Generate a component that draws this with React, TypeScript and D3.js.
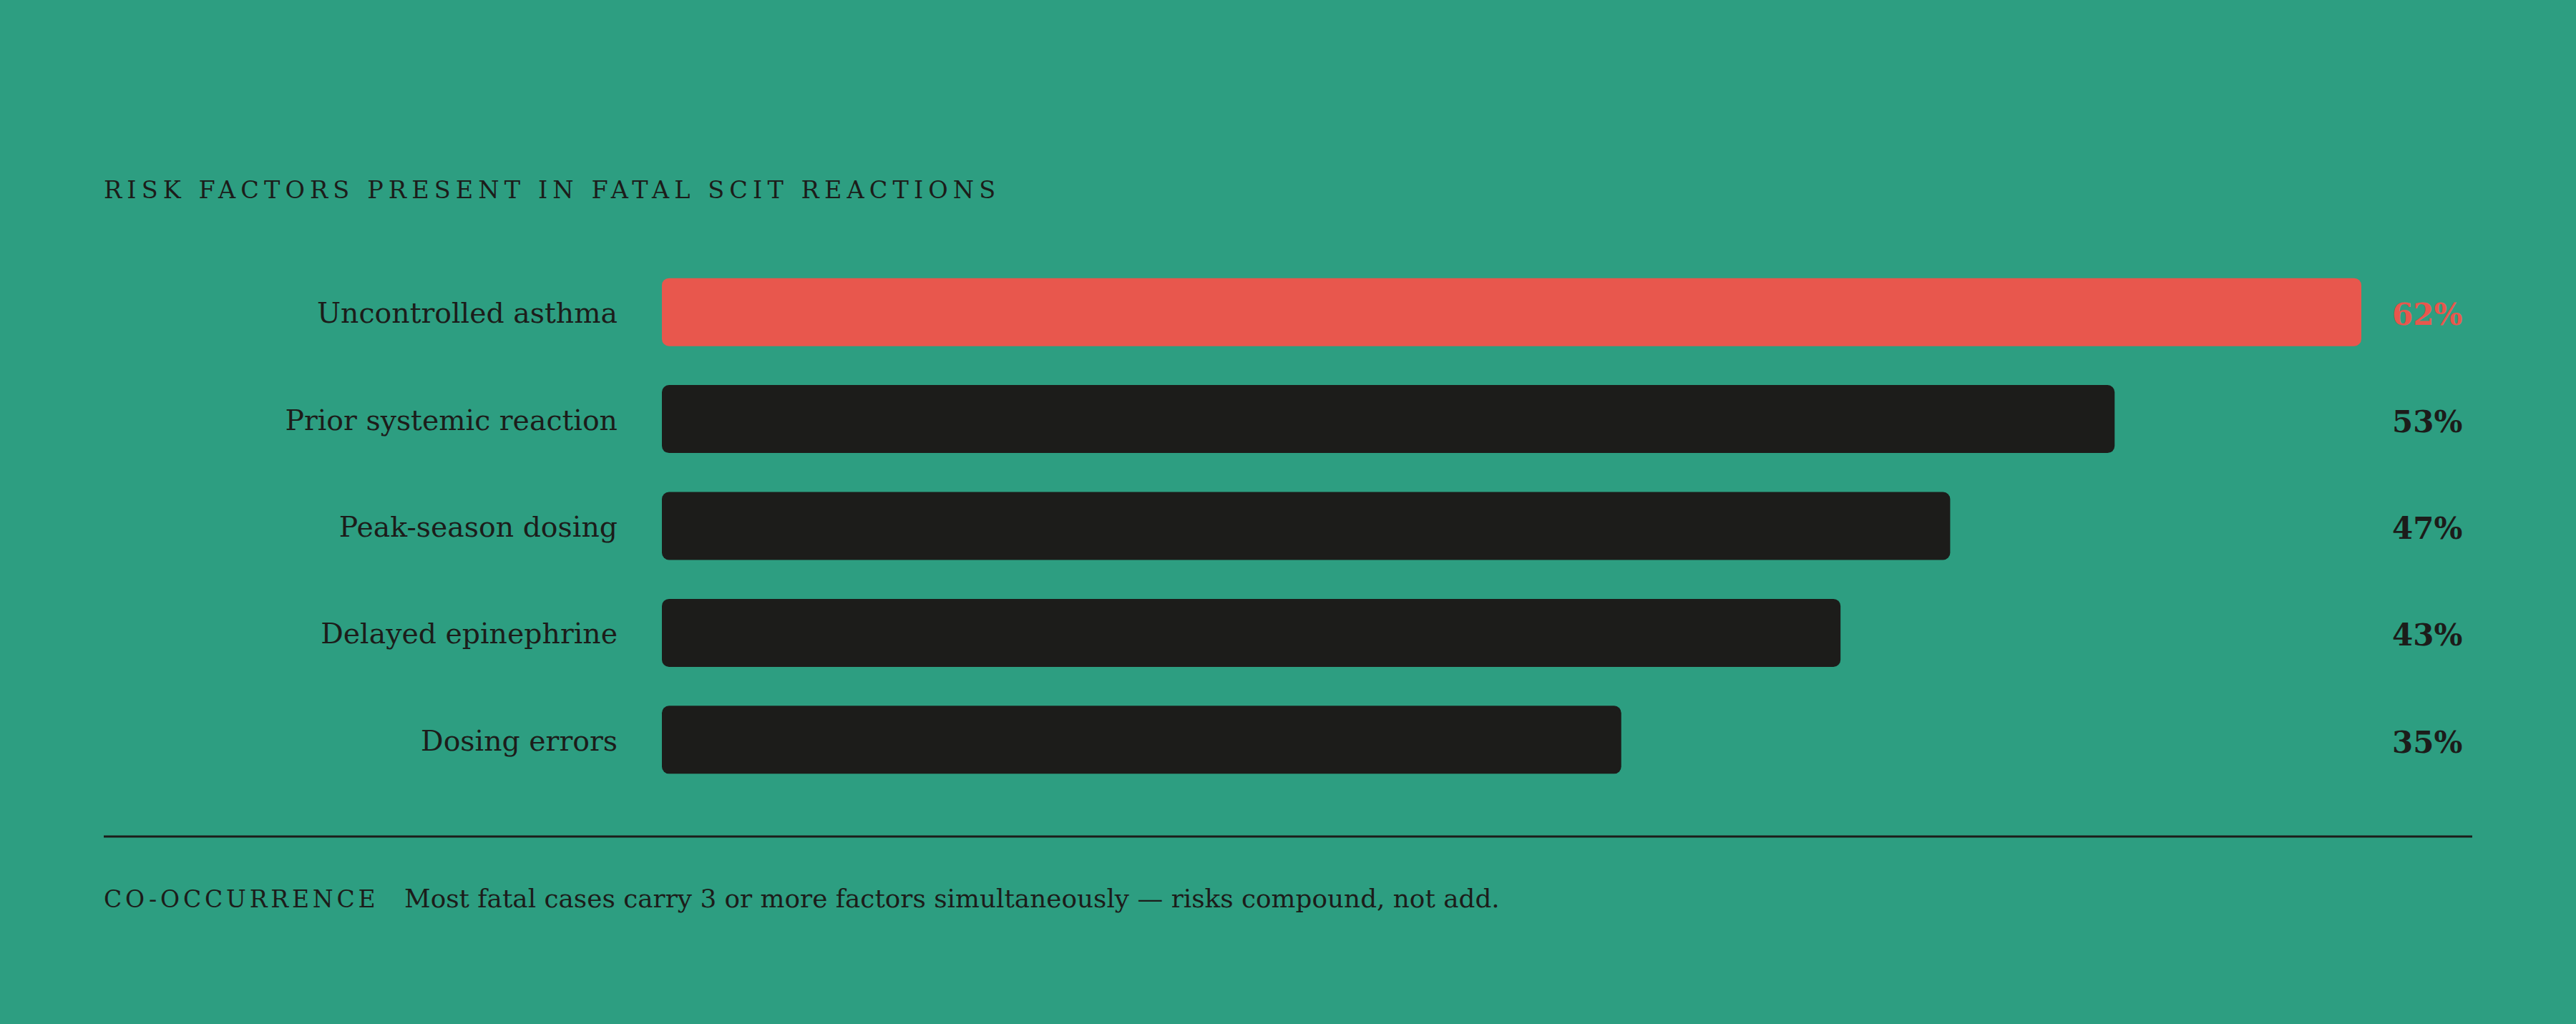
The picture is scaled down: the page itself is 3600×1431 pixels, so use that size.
import React from "react";
import * as d3 from "d3";

const categories = [
  "Uncontrolled asthma",
  "Prior systemic reaction",
  "Peak-season dosing",
  "Delayed epinephrine",
  "Dosing errors",
];
const values = [62, 53, 47, 43, 35];
const highlighted = ["Uncontrolled asthma"];
const title = "RISK FACTORS PRESENT IN FATAL SCIT REACTIONS";
const footLabel = "CO-OCCURRENCE";
const footText = "Most fatal cases carry 3 or more factors simultaneously — risks compound, not add.";

const W = 3600;
const H = 1431;
const BG = "#2d9e81";
const INK = "#1c1c1a";
const RED = "#e8574d";
const FONT = "'DejaVu Serif', 'Liberation Serif', serif";

export default function App() {
  const x = d3.scaleLinear().domain([0, d3.max(values) as number]).range([925, 3300]);
  const y = d3.scaleBand<string>().domain(categories).range([361.5, 1108.5]).paddingInner(0.364).paddingOuter(0.182);
  const bw = y.bandwidth();
  return (
    <svg width={W} height={H} style={{ position: "absolute", left: 0, top: 0, display: "block" }}>
      <rect x={0} y={0} width={W} height={H} fill={BG} />
      <text x={145} y={277} fontFamily={FONT} fontSize={33.5} letterSpacing={7.1} fill={INK}>
        {title}
      </text>
      {categories.map((c, i) => {
        const cy = (y(c) as number) + bw / 2;
        const hi = highlighted.includes(c);
        return (
          <g key={c}>
            <text x={863} y={cy + 15} textAnchor="end" fontFamily={FONT} fontSize={39.4} fill={INK}>
              {c}
            </text>
            <rect x={x(0)} y={y(c)} width={x(values[i]) - x(0)} height={bw} rx={10} ry={10} fill={hi ? RED : INK} />
            <text x={3343} y={cy + 18} fontFamily={FONT} fontSize={42} fontWeight={700} fill={hi ? RED : INK}>
              {values[i]}%
            </text>
          </g>
        );
      })}
      <line x1={145} x2={3455} y1={1169} y2={1169} stroke={INK} strokeWidth={3} />
      <text x={145} y={1268} fontFamily={FONT} fontSize={33} letterSpacing={4.8} fill={INK}>
        {footLabel}
      </text>
      <text x={565} y={1268} fontFamily={FONT} fontSize={35.8} fill={INK}>
        {footText}
      </text>
    </svg>
  );
}
